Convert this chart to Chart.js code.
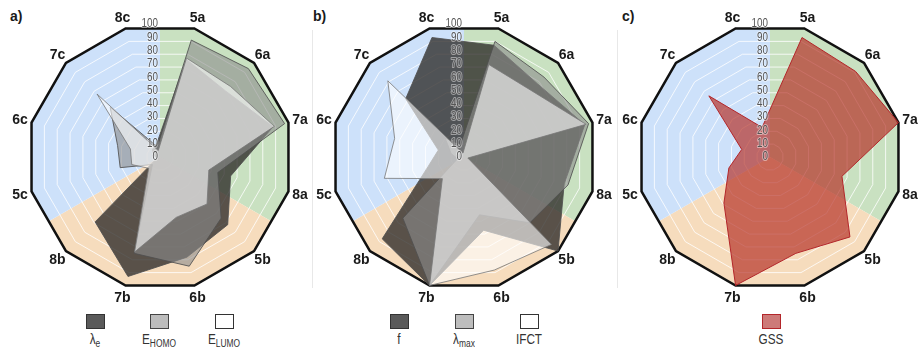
<!DOCTYPE html>
<html>
<head>
<meta charset="utf-8">
<script src="https://cdn.jsdelivr.net/npm/chart.js@4.4.1/dist/chart.umd.min.js"></script>
<style>
  body { margin: 0; width: 919px; height: 348px; background: #fff; position: relative; overflow: hidden;
         font-family: "Liberation Sans", Arial, sans-serif; }
  canvas { position: absolute; top: 7px; }
  .tag { position: absolute; top: 8px; font: bold 14px "Liberation Sans", Arial, sans-serif; color: #1a1a1a; }
  .sep { position: absolute; top: 30px; height: 258px; width: 1px; background: #e8e8e8; }
  .leg { position: absolute; top: 314px; width: 80px; margin-left: -40px; text-align: center; }
  .box { width: 17px; height: 13px; margin: 0 auto; border: 1px solid #333; }
  .lab { font: 14px "Liberation Sans Narrow", "Arial Narrow", "Liberation Sans", sans-serif; color: #333;
         margin-top: 3px; line-height: 15px; transform: scaleX(0.84); }
  .lab sub { font-size: 10px; vertical-align: -3px; line-height: 0; }
</style>
</head>
<body>
<div class="tag" style="left:10px">a)</div>
<div class="tag" style="left:313px">b)</div>
<div class="tag" style="left:622px">c)</div>
<div class="sep" style="left:312px"></div>
<div class="sep" style="left:617px"></div>

<canvas id="chartA" width="300" height="300" style="left:10px"></canvas>
<canvas id="chartB" width="300" height="300" style="left:314px"></canvas>
<canvas id="chartC" width="300" height="300" style="left:620px"></canvas>

<div class="leg" style="left:95px"><div class="box" style="background:#5a5a5a"></div><div class="lab">λ<sub>e</sub></div></div>
<div class="leg" style="left:159px"><div class="box" style="background:#bdbdbd;border-color:#444"></div><div class="lab">E<sub>HOMO</sub></div></div>
<div class="leg" style="left:224px"><div class="box" style="background:#fff"></div><div class="lab">E<sub>LUMO</sub></div></div>

<div class="leg" style="left:399px"><div class="box" style="background:#5a5a5a"></div><div class="lab">f</div></div>
<div class="leg" style="left:464px"><div class="box" style="background:#bdbdbd;border-color:#444"></div><div class="lab">λ<sub>max</sub></div></div>
<div class="leg" style="left:529px"><div class="box" style="background:#fff"></div><div class="lab">IFCT</div></div>

<div class="leg" style="left:771px"><div class="box" style="background:#cd7a78;border-color:#b3262a"></div><div class="lab">GSS</div></div>

<script>
// Axis order around each radar, clockwise from the top
const axisLabels = ['5a', '6a', '7a', '8a', '5b', '6b', '7b', '8b', '5c', '6c', '7c', '8c'];

// a) reorganisation energy and frontier orbital energies (scaled 0-100)
const lambdaE = [76, 70, 88, 55, 72, 78, 93, 69, 2, 5, 8, 10];
const eHomo   = [91, 94, 97, 45, 65, 85, 75, 8, 31, 33, 53, 8];
const eLumo   = [77, 75, 89, 38, 50, 47, 74, 12, 22, 23, 67, 5];

// b) oscillator strength, absorption maximum and charge-transfer index
const oscF      = [87, 78, 94, 78, 100, 57, 100, 87, 28, 20, 62, 93];
const lambdaMax = [90, 85, 97, 81, 70, 45, 100, 65, 5, 10, 20, 10];
const ifct      = [72, 71, 95, 3, 93, 88, 100, 23, 62, 54, 81, 3];

// c) global score
const gss = [93, 91, 100, 56, 85, 75, 100, 49, 32, 22, 65, 23];

const sectorColors = ['#c9e1c1', '#f6dcbd', '#cde1fa'];

const radarDecor = {
  id: 'radarDecor',
  beforeDraw(chart) {
    const s = chart.scales.r, ctx = chart.ctx;
    const n = chart.data.labels.length, R = s.drawingArea;
    ctx.save();
    ctx.beginPath();
    for (let i = 0; i < n; i++) {
      const p = s.getPointPosition(i, R);
      if (i === 0) ctx.moveTo(p.x, p.y); else ctx.lineTo(p.x, p.y);
    }
    ctx.closePath();
    ctx.clip();
    sectorColors.forEach((c, k) => {
      const a0 = -Math.PI / 2 + k * 2 * Math.PI / 3;
      ctx.beginPath();
      ctx.moveTo(s.xCenter, s.yCenter);
      ctx.arc(s.xCenter, s.yCenter, R * 2, a0, a0 + 2 * Math.PI / 3);
      ctx.closePath();
      ctx.fillStyle = c;
      ctx.fill();
    });
    ctx.restore();
  },
  afterDraw(chart) {
    const s = chart.scales.r, ctx = chart.ctx, R = s.drawingArea;
    ctx.save();
    // value ticks along the vertical, slightly condensed
    ctx.font = '12px "Liberation Sans", Arial, sans-serif';
    ctx.textAlign = 'right';
    ctx.textBaseline = 'middle';
    ctx.lineJoin = 'round';
    s.ticks.forEach(t => {
      const y = s.yCenter - s.getDistanceFromCenterForValue(t.value);
      ctx.save();
      ctx.translate(s.xCenter - 2, y);
      ctx.scale(0.82, 1);
      ctx.lineWidth = 2;
      ctx.strokeStyle = 'rgba(255,255,255,0.45)';
      ctx.strokeText(t.label, 0, 0);
      ctx.fillStyle = '#555';
      ctx.fillText(t.label, 0, 0);
      ctx.restore();
    });
    // axis names
    ctx.font = 'bold 14px "Liberation Sans", Arial, sans-serif';
    ctx.textAlign = 'center';
    ctx.fillStyle = '#1a1a1a';
    chart.data.labels.forEach((lab, i) => {
      const p = s.getPointPosition(i, R + 12);
      ctx.fillText(lab, p.x, p.y + 1);
    });
    ctx.restore();
  }
};

function series(label, data, fill, border, order) {
  return { label, data, backgroundColor: fill, borderColor: border, borderWidth: 1,
           pointRadius: 0, pointHoverRadius: 0, fill: true, order, tension: 0 };
}

function radar(id, datasets) {
  return new Chart(document.getElementById(id), {
    type: 'radar',
    data: { labels: axisLabels, datasets },
    options: {
      responsive: false,
      animation: false,
      layout: { padding: 17 },
      plugins: { legend: { display: false }, tooltip: { enabled: false } },
      scales: {
        r: {
          min: 0, max: 100, startAngle: 15,
          ticks: { display: false, stepSize: 10 },
          pointLabels: { display: false },
          angleLines: { display: false },
          grid: {
            circular: false,
            color: c => c.tick && c.tick.value === 100 ? '#111' : 'rgba(255,255,255,0.8)',
            lineWidth: c => c.tick && c.tick.value === 100 ? 2.5 : 1
          }
        }
      }
    },
    plugins: [radarDecor]
  });
}

const darkFill = 'rgba(45,42,40,0.78)';
const midFill = 'rgba(140,140,140,0.6)';
const lightFill = 'rgba(255,255,255,0.6)';
const edge = 'rgba(80,80,80,0.85)';

radar('chartA', [
  series('λe', lambdaE, darkFill, edge, 3),
  series('E_HOMO', eHomo, midFill, edge, 2),
  series('E_LUMO', eLumo, lightFill, 'rgba(120,120,120,0.8)', 1)
]);

radar('chartB', [
  series('f', oscF, darkFill, edge, 3),
  series('λmax', lambdaMax, midFill, edge, 2),
  series('IFCT', ifct, lightFill, 'rgba(120,120,120,0.8)', 1)
]);

radar('chartC', [
  series('GSS', gss, 'rgba(180,45,35,0.68)', '#b3262a', 1)
]);
</script>
</body>
</html>
